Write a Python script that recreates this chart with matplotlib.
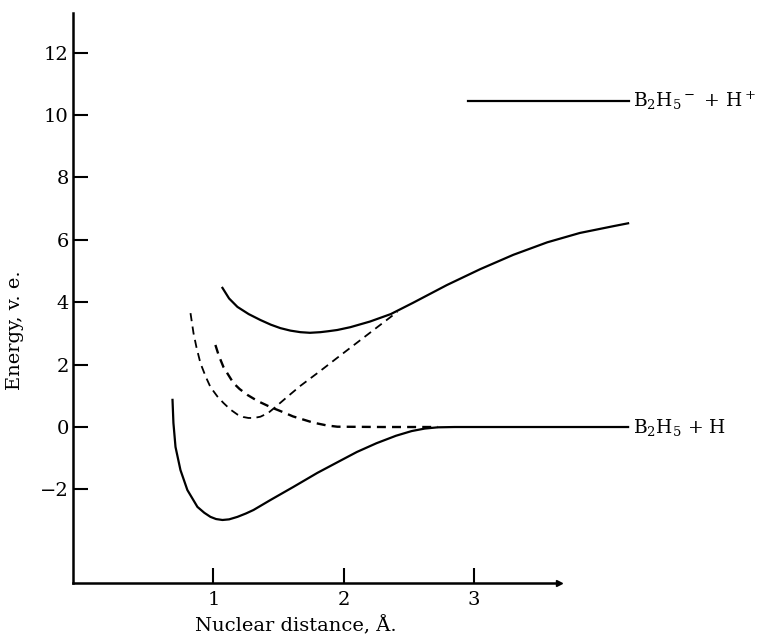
import matplotlib.pyplot as plt

plt.rcParams['font.family'] = ['DejaVu Serif']
plt.rcParams['mathtext.fontset'] = 'dejavuserif'

# lower solid curve (ground state)
lower_x = [0.686, 0.693, 0.709, 0.747, 0.80, 0.877, 0.93, 0.977, 1.02, 1.069,
           1.12, 1.184, 1.25, 1.307, 1.437, 1.613, 1.797, 1.973, 2.10, 2.25,
           2.40, 2.52, 2.62, 2.72, 2.85, 3.2, 3.7, 4.18]
lower_y = [0.87, 0.13, -0.64, -1.38, -2.02, -2.56, -2.75, -2.88, -2.95, -2.98,
           -2.96, -2.88, -2.77, -2.66, -2.34, -1.92, -1.47, -1.08, -0.80, -0.52,
           -0.28, -0.13, -0.05, -0.01, 0.0, 0.0, 0.0, 0.0]

# upper solid curve (ionic state)
upper_x = [1.069, 1.12, 1.184, 1.27, 1.36, 1.44, 1.513, 1.59, 1.667, 1.74,
           1.82, 1.88, 1.95, 2.05, 2.2, 2.36, 2.53, 2.79, 3.046, 3.30, 3.56,
           3.81, 4.07, 4.18]
upper_y = [4.46, 4.12, 3.85, 3.62, 3.43, 3.28, 3.17, 3.09, 3.04, 3.02,
           3.04, 3.07, 3.11, 3.20, 3.38, 3.62, 3.98, 4.55, 5.06, 5.52, 5.92,
           6.22, 6.44, 6.53]

# dashed curve with shallow minimum, rising to meet the upper curve
dash1_x = [0.824, 0.847, 0.87, 0.90, 0.94, 0.977, 1.03, 1.077, 1.13, 1.184,
           1.23, 1.268, 1.31, 1.36, 1.42, 1.475, 1.57, 1.667, 1.82, 1.95,
           2.10, 2.25, 2.41]
dash1_y = [3.65, 3.01, 2.55, 2.05, 1.62, 1.28, 0.98, 0.77, 0.56, 0.40,
           0.32, 0.29, 0.29, 0.33, 0.45, 0.64, 0.98, 1.32, 1.80, 2.22,
           2.70, 3.18, 3.69]

# dashed repulsive curve, flattening to zero
dash2_x = [1.015, 1.04, 1.077, 1.153, 1.20, 1.26, 1.34, 1.437, 1.52, 1.61,
           1.766, 1.87, 1.95, 2.3, 2.72]
dash2_y = [2.63, 2.30, 1.92, 1.41, 1.22, 1.03, 0.83, 0.64, 0.50, 0.34,
           0.14, 0.05, 0.01, 0.0, 0.0]

# dissociation limit B2H5- + H+
ion_x = [2.95, 4.19]
ion_y = [10.45, 10.45]

yticks = [-2, 0, 2, 4, 6, 8, 10, 12]
xticks = [1, 2, 3]

fig = plt.figure(figsize=(7.63, 6.38), dpi=100)
ax = fig.add_axes([0.0957, 0.0862, 0.748, 0.8934])

ax.plot(lower_x, lower_y, color='black', lw=1.6, clip_on=False)
ax.plot(upper_x, upper_y, color='black', lw=1.6, clip_on=False)
ax.plot(ion_x, ion_y, color='black', lw=1.6, clip_on=False)
ax.plot(dash1_x, dash1_y, color='black', lw=1.3, dashes=(4.5, 3))
ax.plot(dash2_x, dash2_y, color='black', lw=1.7, dashes=(3.8, 2.6))

ax.text(4.22, 10.45, r'B$_2$H$_5$$^-$ + H$^+$', fontsize=13.5, va='center',
        ha='left', clip_on=False)
ax.text(4.22, 0, r'B$_2$H$_5$ + H', fontsize=13.5, va='center', ha='left',
        clip_on=False)

ax.set_xlim(-0.077, 4.3)
ax.set_ylim(-5, 13.27)

for side in ['top', 'right']:
    ax.spines[side].set_visible(False)
ax.spines['left'].set_linewidth(1.8)
ax.spines['bottom'].set_linewidth(1.8)
ax.spines['bottom'].set_bounds(-0.077, 3.65)
ax.plot(3.65, -5, marker='>', color='black', markersize=5, clip_on=False)

ax.set_xticks(xticks)
ax.set_yticks(yticks)
ax.tick_params(axis='both', direction='in', length=11, width=1.5,
               labelsize=14, color='black')
ax.tick_params(axis='x', pad=6)
ax.tick_params(axis='y', pad=3)

ax.set_xlabel('Nuclear distance, Å.', fontsize=14, va='center', ha='center')
ax.set_ylabel('Energy, v. e.', fontsize=14, va='center', ha='center')
ax.xaxis.set_label_coords(0.391, -0.074)
ax.yaxis.set_label_coords(-0.102, 0.444)

fig.savefig('out.png', dpi=100)
